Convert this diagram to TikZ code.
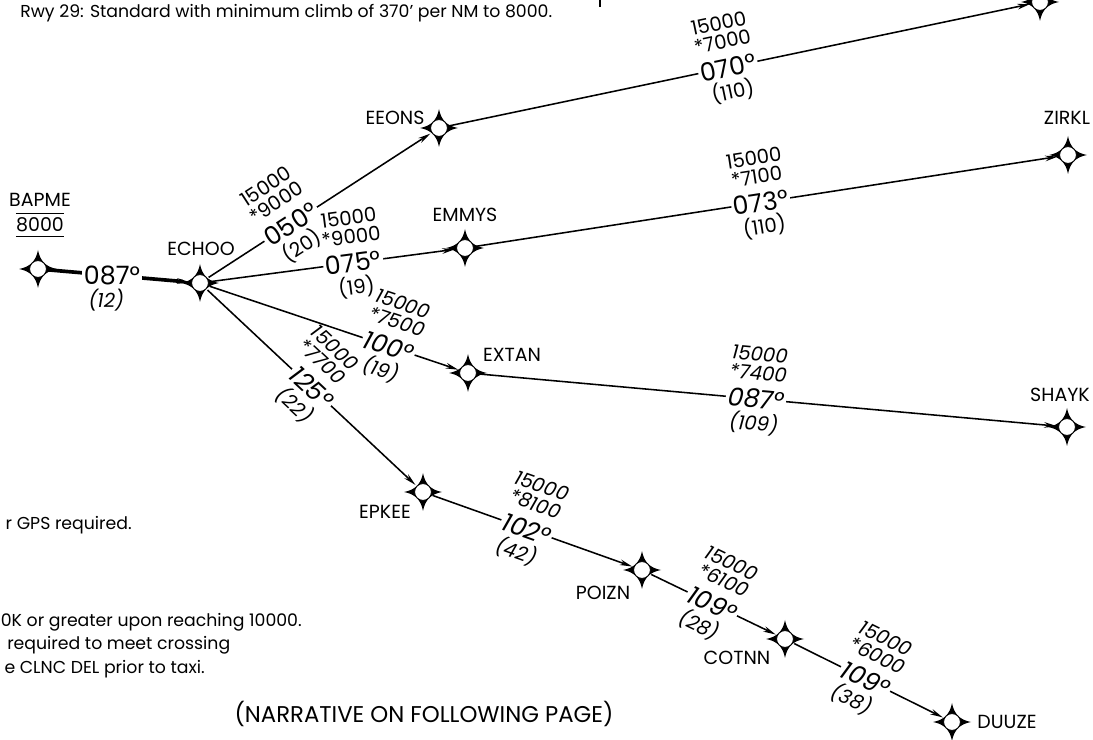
\documentclass[tikz,border=0pt]{standalone}
\usepackage{fontspec}
\setmainfont{Poppins}
\usetikzlibrary{arrows.meta}

\newcommand{\altsz}{\fontsize{14}{13.5}\selectfont}
\newcommand{\hdgsz}{\fontsize{18}{20}\selectfont}
\newcommand{\namesz}{\fontsize{13.5}{15}\selectfont}
\newcommand{\notesz}{\fontsize{12.3}{14}\selectfont}

% four point star with the open circle
\newcommand{\fixstar}[1]{%
  \begin{scope}[shift={(#1)}]
    \fill (0,-19) .. controls (2,-8) and (8,-2) .. (19,0)
      .. controls (8,2) and (2,8) .. (0,19)
      .. controls (-2,8) and (-8,2) .. (-19,0)
      .. controls (-8,-2) and (-2,-8) .. cycle;
    \filldraw[fill=white, line width=0.6pt] (0,0) circle (0.21cm);
  \end{scope}}

\tikzset{
  fix/.style={circle, minimum size=0.5cm, inner sep=0pt},
  wptname/.style={font=\namesz, inner sep=0pt},
  note/.style={font=\notesz, inner sep=0pt},
  leg/.style={line width=1.1pt, -{Stealth[length=9pt, width=4pt]}},
  hdg/.style={font=\hdgsz, fill=white, inner sep=1.5pt, sloped},
  alt/.style={font=\altsz, align=center, inner sep=0pt, sloped, above=13pt},
  dst/.style={font=\altsz, inner sep=0pt, sloped, below=9pt},
  ihdg/.style={hdg, font=\hdgsz\itshape},
  ialt/.style={alt, font=\altsz\itshape},
  idst/.style={dst, font=\altsz\itshape},
}

\begin{document}
\begin{tikzpicture}[x=0.025cm, y=-0.025cm]
  \useasboundingbox (0,0) rectangle (1093,740);

  % notes
  \node[note, anchor=west] (rwy) at (20,13) {Rwy 29: Standard with minimum climb of 370' per NM to 8000.};
  \draw[line width=0.8pt] (600,0) -- (600,7);
  \node[note, anchor=east] (gps) at (132,525) {r GPS required.};
  \node[note, anchor=east] (spd) at (302,622) {0K or greater upon reaching 10000.};
  \node[note, anchor=west] (xng) at (7,645) {required to meet crossing};
  \node[note, anchor=east] (clnc) at (205,669) {e CLNC DEL prior to taxi.};
  \node[note, font=\fontsize{16.2}{18}\selectfont] (narr) at (424,714) {(NARRATIVE ON FOLLOWING PAGE)};

  % fixes
  \node[fix] (BAPME) at (38,269) {};
  \node[fix] (ECHOO) at (200,283) {};
  \node[fix] (EEONS) at (439,128) {};
  \node[fix] (EMMYS) at (465,248) {};
  \node[fix] (EXTAN) at (468,373) {};
  \node[fix] (EPKEE) at (423,492) {};
  \node[fix] (POIZN) at (642,570) {};
  \node[fix] (COTNN) at (785,639) {};
  \node[fix] (DUUZE) at (952,722) {};
  \node[fix] (ZIRKL) at (1068,155) {};
  \node[fix] (SHAYK) at (1067,427) {};
  \node[fix] (topfix) at (1040,2) {};

  \foreach \f in {BAPME,ECHOO,EEONS,EMMYS,EXTAN,EPKEE,POIZN,COTNN,DUUZE,ZIRKL,SHAYK,topfix}
    \fixstar{\f};

  % fix names
  \node[wptname] (BAPMElbl) at (40,200) {BAPME};
  \node[wptname, inner ysep=3pt] (BAPMEalt) at (40,225) {8000};
  \draw[line width=0.7pt] (BAPMEalt.north west) -- (BAPMEalt.north east);
  \draw[line width=0.7pt] (BAPMEalt.south west) -- (BAPMEalt.south east);
  \node[wptname] (ECHOOlbl) at (201,249) {ECHOO};
  \node[wptname] (EEONSlbl) at (395,118) {EEONS};
  \node[wptname] (EMMYSlbl) at (465,215) {EMMYS};
  \node[wptname] (EXTANlbl) at (512,355) {EXTAN};
  \node[wptname] (EPKEElbl) at (385,512) {EPKEE};
  \node[wptname] (POIZNlbl) at (603,593) {POIZN};
  \node[wptname] (COTNNlbl) at (737,658) {COTNN};
  \node[wptname] (DUUZElbl) at (1007,722) {DUUZE};
  \node[wptname] (ZIRKLlbl) at (1067,118) {ZIRKL};
  \node[wptname] (SHAYKlbl) at (1060,395) {SHAYK};

  % legs
  \draw[leg, line width=2.6pt] (BAPME) -- node[pos=.45, font=\hdgsz, fill=white, inner sep=1.5pt] {087°}
    node[pos=.41, font=\altsz\itshape, inner sep=0pt, below=9pt] {(12)} (ECHOO);
  \draw[leg] (ECHOO) -- node[hdg, pos=.37] {050°} node[alt, pos=.37] {15000\\*9000}
    node[dst, pos=.36] {(20)} (EEONS);
  \draw[leg] (ECHOO) -- node[hdg, pos=.585] {075°} node[alt, pos=.59] {15000\\*9000}
    node[dst, pos=.585] {(19)} (EMMYS);
  \draw[leg] (ECHOO) -- node[ihdg, pos=.72] {100°} node[ialt, pos=.72] {15000\\*7500}
    node[idst, pos=.72] {(19)} (EXTAN);
  \draw[leg] (ECHOO) -- node[ihdg, pos=.50] {125°} node[ialt, pos=.465] {15000\\*7700}
    node[idst, pos=.50] {(22)} (EPKEE);
  \draw[leg] (EEONS) -- node[hdg, pos=.48] {070°} node[alt, pos=.48] {15000\\*7000}
    node[dst, pos=.48] {(110)} (topfix);
  \draw[leg] (EMMYS) -- node[hdg, pos=.49] {073°} node[alt, pos=.49] {15000\\*7100}
    node[dst, pos=.49] {(110)} (ZIRKL);
  \draw[leg] (EXTAN) -- node[ihdg, pos=.48] {087°} node[ialt, pos=.48] {15000\\*7400}
    node[idst, pos=.48] {(109)} (SHAYK);
  \draw[leg] (EPKEE) -- node[ihdg, pos=.47] {102°} node[ialt, pos=.47] {15000\\*8100}
    node[idst, pos=.46] {(42)} (POIZN);
  \draw[leg] (POIZN) -- node[ihdg, pos=.49] {109°} node[ialt, pos=.49] {15000\\*6100}
    node[idst, pos=.47] {(28)} (COTNN);
  \draw[leg] (COTNN) -- node[ihdg, pos=.48] {109°} node[ialt, pos=.48] {15000\\*6000}
    node[idst, pos=.46] {(38)} (DUUZE);
\end{tikzpicture}
\end{document}
